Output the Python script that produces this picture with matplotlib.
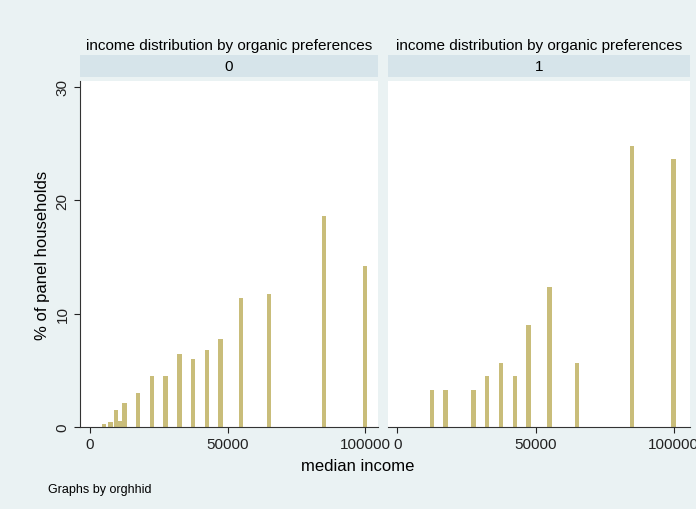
import matplotlib
matplotlib.use("Agg")
import matplotlib.pyplot as plt

plt.rcParams["font.family"] = ["Liberation Sans", "DejaVu Sans"]

# median income (x) and % of panel households, by organic preference group
income_0 = [5000, 7500, 9500, 11000, 12500, 17500, 22500, 27500, 32500, 37500, 42500, 47500, 55000, 65000, 85000, 100000]
pct_0 = [0.3, 0.4, 1.5, 0.5, 2.1, 3.0, 4.5, 4.5, 6.4, 6.0, 6.8, 7.8, 11.4, 11.7, 18.6, 14.2]
income_1 = [12500, 17500, 27500, 32500, 37500, 42500, 47500, 55000, 65000, 85000, 100000]
pct_1 = [3.3, 3.3, 3.3, 4.5, 5.6, 4.5, 9.0, 12.3, 5.6, 24.8, 23.6]
panel_labels = ["0", "1"]
title = "income distribution by organic preferences"

W, H = 696, 510
bg = "#EAF2F3"
strip = "#D6E4EA"
bar_col = "#C9BD7A"

fig = plt.figure(figsize=(W / 100, H / 100), dpi=100, facecolor=bg)

def px(x0, y0, x1, y1):
    return [x0 / W, 1 - y1 / H, (x1 - x0) / W, (y1 - y0) / H]

panels = [
    (80, 378, -3636, 104700, income_0, pct_0),
    (388, 690, -3370, 105900, income_1, pct_1),
]
for i, (x0, x1, xl, xr, xs, ys) in enumerate(panels):
    ax = fig.add_axes(px(x0, 82, x1, 428))
    ax.bar(xs, ys, width=1600, color=bar_col)
    ax.set_xlim(xl, xr)
    ax.set_ylim(0, 30.5)
    for s in ["top", "right"]:
        ax.spines[s].set_visible(False)
    ax.spines["bottom"].set_color("#333333")
    ax.set_xticks([0, 50000, 100000])
    ax.set_xticklabels(["0", "50000", "100000"])
    ax.tick_params(labelsize=11, colors="#222222", length=4)
    if i == 0:
        ax.set_yticks([0, 10, 20, 30])
        ax.tick_params(axis="y", labelrotation=90)
        for t in ax.get_yticklabels():
            t.set_va("center")
        ax.set_ylabel("% of panel households", fontsize=12)
        ax.spines["left"].set_color("#333333")
    else:
        ax.set_yticks([])
        ax.spines["left"].set_visible(False)
    sax = fig.add_axes(px(x0, 56, x1, 78))
    sax.set_facecolor(strip)
    sax.set_xticks([]); sax.set_yticks([])
    for s in sax.spines.values():
        s.set_visible(False)
    sax.text(0.5, 0.5, panel_labels[i], ha="center", va="center", fontsize=11)
    fig.text((x0 + x1) / 2 / W, 1 - 46 / H, title, ha="center", va="center", fontsize=11)

fig.text(358 / W, 1 - 467 / H, "median income", ha="center", va="center", fontsize=12)
fig.text(48 / W, 1 - 490 / H, "Graphs by orghhid", ha="left", va="center", fontsize=9)

fig.savefig("out.png", dpi=100, facecolor=bg)
